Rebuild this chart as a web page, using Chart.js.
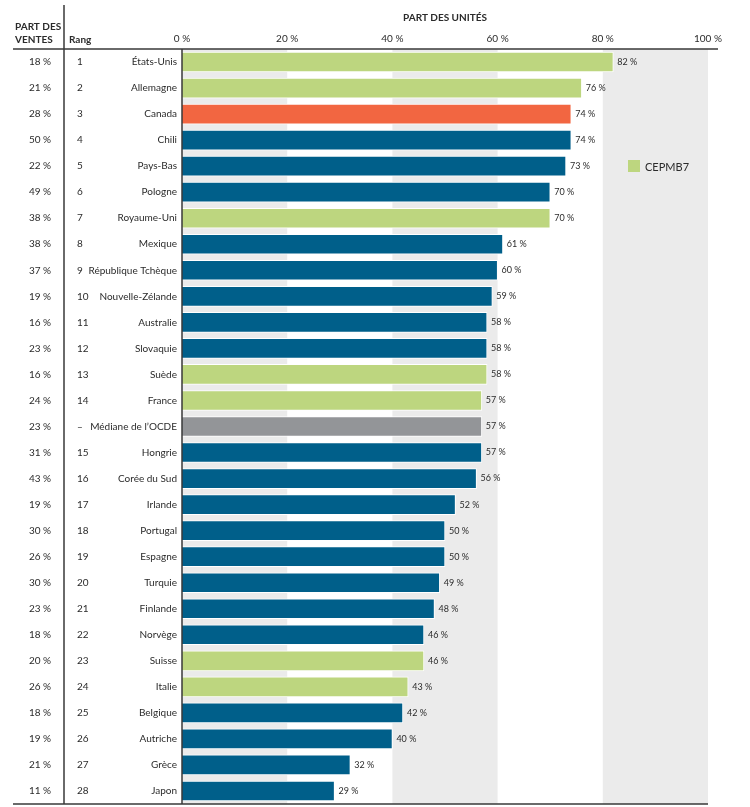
<!DOCTYPE html>
<html>
<head>
<meta charset="utf-8">
<script src="https://cdn.jsdelivr.net/npm/chart.js@4"></script>
<style>
  html, body { margin: 0; padding: 0; background: #fff; overflow: hidden; }
  canvas { display: block; }
</style>
</head>
<body>
<canvas id="graphicUnits" width="750" height="807"></canvas>
<script>
// data
const countries = ['États-Unis', 'Allemagne', 'Canada', 'Chili', 'Pays-Bas', 'Pologne', 'Royaume-Uni',
  'Mexique', 'République Tchèque', 'Nouvelle-Zélande', 'Australie', 'Slovaquie', 'Suède', 'France',
  'Médiane de l\u2019OCDE', 'Hongrie', 'Corée du Sud', 'Irlande', 'Portugal', 'Espagne', 'Turquie',
  'Finlande', 'Norvège', 'Suisse', 'Italie', 'Belgique', 'Autriche', 'Grèce', 'Japon'];
const ranks = ['1', '2', '3', '4', '5', '6', '7', '8', '9', '10', '11', '12', '13', '14', '\u2013',
  '15', '16', '17', '18', '19', '20', '21', '22', '23', '24', '25', '26', '27', '28'];
const unitShare = [82, 76, 74, 74, 73, 70, 70, 61, 60, 59, 58, 58, 58, 57, 57, 57, 56, 52, 50, 50, 49,
  48, 46, 46, 43, 42, 40, 32, 29];
const salesShare = [18, 21, 28, 50, 22, 49, 38, 38, 37, 19, 16, 23, 16, 24, 23, 31, 43, 19, 30, 26, 30,
  23, 18, 20, 26, 18, 19, 21, 11];
// c = CEPMB7, k = Canada, m = médiane, o = autres
const groups = ['c', 'c', 'k', 'o', 'o', 'o', 'c', 'o', 'o', 'o', 'o', 'o', 'c', 'c', 'm', 'o', 'o', 'o',
  'o', 'o', 'o', 'o', 'o', 'c', 'c', 'o', 'o', 'o', 'o'];
const xTicks = [0, 20, 40, 60, 80, 100];

const colors = { c: '#bdd67f', k: '#f26641', m: '#939598', o: '#005f8a' };
const textColor = '#2b2b2b';
const fontFamily = 'Lato, "Noto Sans", sans-serif';
const pct = v => v + ' %';

const tablePlugin = {
  id: 'tablePlugin',
  beforeDatasetsDraw(chart) {
    const { ctx, chartArea } = chart;
    const x = chart.scales.x;
    ctx.save();
    ctx.fillStyle = '#ebebeb';
    // grey bands 0-20, 40-60, 80-100
    for (let i = 0; i < xTicks.length - 1; i += 2) {
      const x0 = x.getPixelForValue(xTicks[i]);
      const x1 = x.getPixelForValue(xTicks[i + 1]);
      ctx.fillRect(x0, chartArea.top, x1 - x0, chartArea.bottom - chartArea.top);
    }
    ctx.restore();
  },
  afterDraw(chart) {
    const { ctx, chartArea } = chart;
    const y = chart.scales.y;
    const meta = chart.getDatasetMeta(0);
    ctx.save();

    // rules
    ctx.strokeStyle = '#3a3a3a';
    ctx.lineWidth = 1.5;
    ctx.beginPath();
    ctx.moveTo(13, chartArea.top);
    ctx.lineTo(718, chartArea.top);
    ctx.moveTo(13, chartArea.bottom);
    ctx.lineTo(chartArea.right, chartArea.bottom);
    ctx.moveTo(64, 5);
    ctx.lineTo(64, chartArea.bottom);
    ctx.moveTo(chartArea.left, chartArea.top);
    ctx.lineTo(chartArea.left, chartArea.bottom);
    ctx.stroke();

    // headers
    ctx.fillStyle = textColor;
    ctx.font = 'bold 10px ' + fontFamily;
    ctx.textBaseline = 'middle';
    ctx.textAlign = 'left';
    ctx.fillText('PART DES', 15, 27);
    ctx.fillText('VENTES', 15, 40);
    ctx.fillText('Rang', 69, 40);
    ctx.textAlign = 'center';
    ctx.fillText('PART DES UNITÉS', (chartArea.left + chartArea.right) / 2, 18);

    // left columns
    ctx.font = '10px ' + fontFamily;
    countries.forEach((c, i) => {
      const py = y.getPixelForValue(i);
      ctx.textAlign = 'center';
      ctx.fillText(pct(salesShare[i]), 40, py);
      ctx.textAlign = 'left';
      ctx.fillText(ranks[i], 77, py);
    });

    // value labels
    ctx.font = '9px ' + fontFamily;
    ctx.textAlign = 'left';
    meta.data.forEach((bar, i) => {
      ctx.fillText(pct(unitShare[i]), bar.x + 4, bar.y);
    });

    // legend
    ctx.fillStyle = colors.c;
    ctx.fillRect(628, 160, 12, 12);
    ctx.fillStyle = textColor;
    ctx.font = '11px ' + fontFamily;
    ctx.fillText('CEPMB7', 645, 167);
    ctx.restore();
  }
};

new Chart(document.getElementById('graphicUnits'), {
  type: 'bar',
  data: {
    labels: countries,
    datasets: [{
      data: unitShare,
      backgroundColor: groups.map(g => colors[g]),
      borderColor: '#ffffff',
      borderWidth: 1,
      barThickness: 20
    }]
  },
  options: {
    indexAxis: 'y',
    responsive: false,
    devicePixelRatio: 1,
    animation: false,
    layout: { padding: { top: 0, right: 42, bottom: 3, left: 0 } },
    plugins: { legend: { display: false }, tooltip: { enabled: false } },
    scales: {
      x: {
        position: 'top',
        min: 0,
        max: 100,
        afterBuildTicks: s => { s.ticks = xTicks.map(v => ({ value: v })); },
        afterFit: s => { s.height = 49; },
        grid: { display: false, drawTicks: false },
        border: { display: false },
        ticks: {
          padding: 4,
          color: textColor,
          font: { family: fontFamily, size: 10 },
          callback: v => pct(v),
          maxRotation: 0
        }
      },
      y: {
        afterFit: s => { s.width = 182; s.paddingTop = 0; s.paddingBottom = 0; },
        grid: { display: false, drawTicks: false },
        border: { display: false },
        ticks: {
          padding: 5,
          color: textColor,
          font: { family: fontFamily, size: 10 },
          autoSkip: false
        }
      }
    }
  },
  plugins: [tablePlugin]
});
</script>
</body>
</html>
